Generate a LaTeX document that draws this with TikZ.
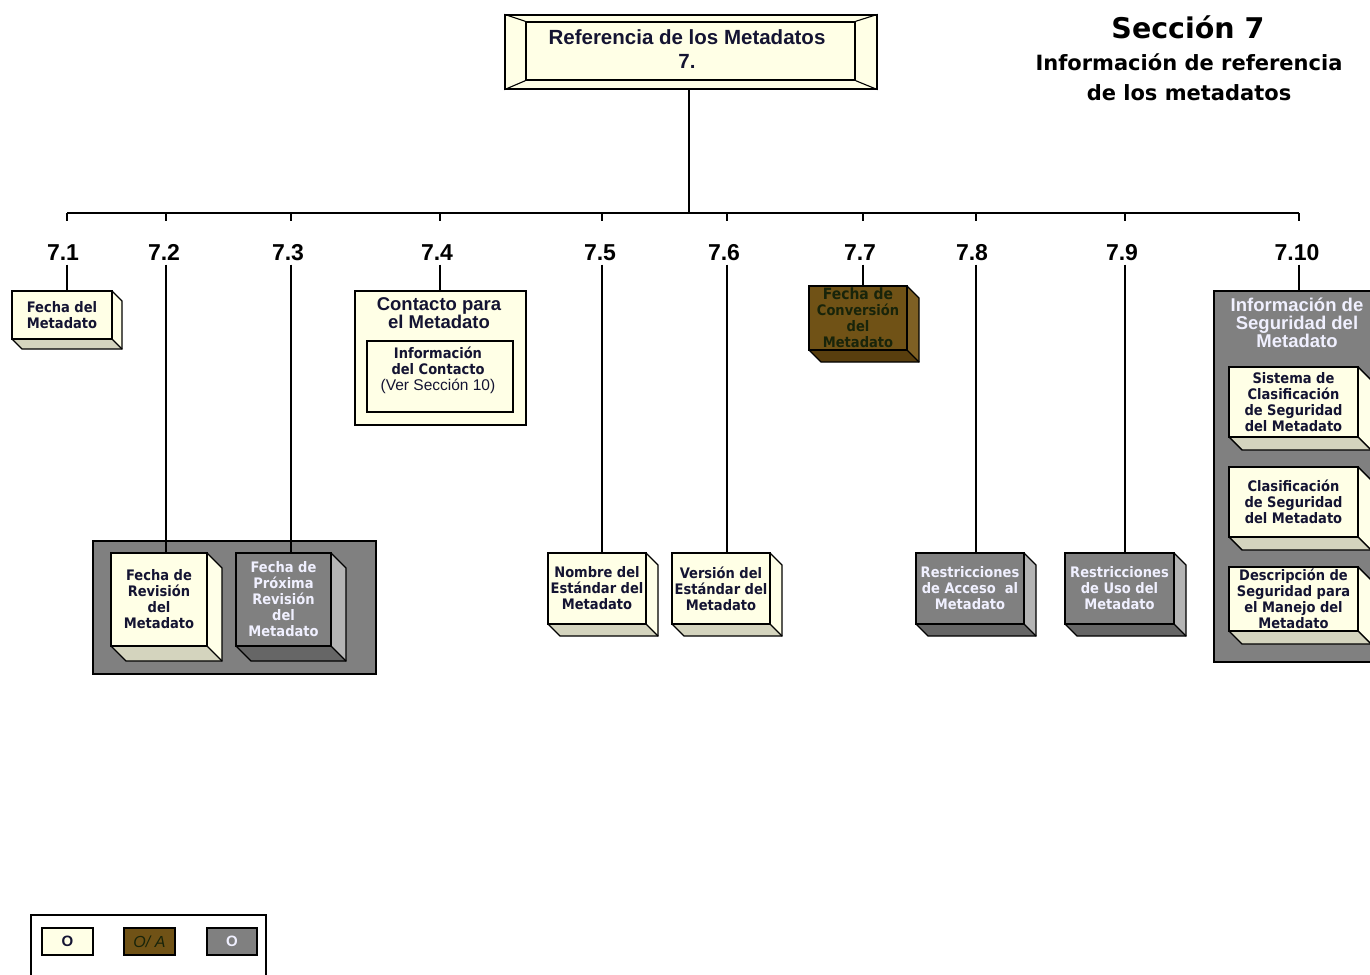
\documentclass[tikz,border=0pt]{standalone}
\usepackage{fontspec}
\setmainfont{Liberation Sans}
\newfontfamily\boxfont{DejaVu Sans Condensed}
\newfontfamily\headfont{DejaVu Sans}
\usetikzlibrary{fit}

% palettes: front face, side face, bottom face, text
\definecolor{crFront}{RGB}{255,255,230}
\definecolor{crSide}{RGB}{255,255,232}
\definecolor{crBottom}{RGB}{212,212,190}
\definecolor{crText}{RGB}{20,20,50}
\definecolor{gyFront}{RGB}{128,128,128}
\definecolor{gySide}{RGB}{180,180,180}
\definecolor{gyBottom}{RGB}{102,102,102}
\definecolor{gyText}{RGB}{240,240,255}
\definecolor{brFront}{RGB}{112,82,22}
\definecolor{brSide}{RGB}{126,96,36}
\definecolor{brBottom}{RGB}{88,62,14}
\definecolor{brText}{RGB}{24,36,10}

\tikzset{
  edge/.style={draw=black, line width=1.4pt, line join=miter},
  face/.style={edge, inner sep=0pt},
  boxlbl/.style={inner sep=0pt, align=center,
    font=\boxfont\bfseries\fontsize{14.5}{16}\selectfont},
  numlbl/.style={inner sep=0pt, text height=39pt, text depth=4pt,
    font=\bfseries\fontsize{23}{24}\selectfont},
  link/.style={draw=black, line width=1.3pt},
}

% raised block: palette, name, x1, y1, x2, y2, depth, text
\newcommand\blockbox[8]{%
  \fill[#1Side] (#5,#4) -- (#5+#7,#4+#7) -- (#5+#7,#6+#7) -- (#5,#6) -- cycle;
  \fill[#1Bottom] (#3,#6) -- (#5,#6) -- (#5+#7,#6+#7) -- (#3+#7,#6+#7) -- cycle;
  \draw[edge] (#5,#4) -- (#5+#7,#4+#7) -- (#5+#7,#6+#7) -- (#3+#7,#6+#7) -- (#3,#6);
  \draw[edge] (#5,#6) -- (#5+#7,#6+#7);
  \node[face, fill=#1Front, fit={(#3,#4) (#5,#6)}] (#2) {};
  \node[boxlbl, text=#1Text] at (#2.center) {#8};
}

\begin{document}
\begin{tikzpicture}[x=1pt, y=-1pt]
\useasboundingbox (0,0) rectangle (1370,974);
\clip (0,0) rectangle (1370,974);
\fill[white] (0,0) rectangle (1370,974);

% heading
\node[font=\headfont\bfseries\fontsize{28.5}{30}\selectfont, inner sep=0pt] (head) at (1188,27) {Sección 7};
\node[font=\headfont\bfseries\fontsize{21}{30}\selectfont, inner sep=0pt, align=center] (sub) at (1189,77)
  {Información de referencia\\de los metadatos};

% root block with bevelled frame
\node[face, fill=crFront, fit={(505,15) (877,89)}] (rootO) {};
\node[face, fill=crFront, fit={(526,22) (855,80)}] (rootI) {};
\draw[edge, line width=1.1pt] (rootO.north west) -- (rootI.north west)
  (rootO.north east) -- (rootI.north east)
  (rootO.south west) -- (rootI.south west)
  (rootO.south east) -- (rootI.south east);
\node[inner sep=0pt, align=center, text=crText,
  font=\bfseries\fontsize{20.5}{24}\selectfont] (root) at (687,49)
  {Referencia de los Metadatos\\7.};

% bus
\coordinate (hub) at (689,213);
\coordinate (t1) at (67,213);
\coordinate (t2) at (166,213);
\coordinate (t3) at (291,213);
\coordinate (t4) at (440,213);
\coordinate (t5) at (602,213);
\coordinate (t6) at (727,213);
\coordinate (t7) at (863,213);
\coordinate (t8) at (976,213);
\coordinate (t9) at (1125,213);
\coordinate (t10) at (1299,213);
\draw[link] (rootO.south -| hub) -- (hub);
\draw[link] (t1) -- (t10);

% section numbers
\node[numlbl] (n1) at (63,243) {7.1};
\node[numlbl] (n2) at (164,243) {7.2};
\node[numlbl] (n3) at (288,243) {7.3};
\node[numlbl] (n4) at (437,243) {7.4};
\node[numlbl] (n5) at (600,243) {7.5};
\node[numlbl] (n6) at (724,243) {7.6};
\node[numlbl] (n7) at (860,243) {7.7};
\node[numlbl] (n8) at (972,243) {7.8};
\node[numlbl] (n9) at (1122,243) {7.9};
\node[numlbl] (n10) at (1297,243) {7.10};
\foreach \i in {1,...,10} {\draw[link] (t\i) -- (t\i |- n\i.north);}

% 7.1
\blockbox{cr}{b1}{12}{291}{112}{339}{10}{Fecha del\\Metadato}

% 7.2 / 7.3 group
\node[face, fill=gyFront, fit={(93,541) (376,674)}] (grp23) {};
\blockbox{cr}{b2}{111}{553}{207}{646}{15}{Fecha de\\Revisión\\del\\Metadato}
\blockbox{gy}{b3}{236}{553}{331}{646}{15}{Fecha de\\Próxima\\Revisión\\del\\Metadato}

% 7.4
\node[face, fill=crFront, fit={(355,291) (526,425)}] (b4) {};
\node[inner sep=0pt, align=center, text=crText,
  font=\bfseries\fontsize{18.5}{18}\selectfont] (b4t) at (439,313) {Contacto para\\el Metadato};
\node[face, fill=crFront, fit={(367,341) (513,412)}] (b4i) {};
\node[inner sep=0pt, align=center, text=crText, font=\fontsize{14.5}{16}\selectfont] (b4it) at (438,370)
  {{\boxfont\bfseries Información}\\{\boxfont\bfseries del Contacto}\\{\fontsize{15.5}{16}\selectfont(Ver Sección 10)}};

% 7.5 - 7.9
\blockbox{cr}{b5}{548}{553}{646}{624}{12}{Nombre del\\Estándar del\\Metadato}
\blockbox{cr}{b6}{672}{553}{770}{624}{12}{Versión del\\Estándar del\\Metadato}
\blockbox{br}{b7}{809}{286}{907}{350}{12}{\fontsize{15.5}{16}\selectfont Fecha de\\Conversión\\del\\Metadato}
\blockbox{gy}{b8}{916}{553}{1024}{624}{12}{Restricciones\\de Acceso\ \ al\\Metadato}
\blockbox{gy}{b9}{1065}{553}{1174}{624}{12}{Restricciones\\de Uso del\\Metadato}

% 7.10
\node[face, fill=gyFront, fit={(1214,291) (1390,662)}] (b10) {};
\node[inner sep=0pt, align=center, text=gyText,
  font=\bfseries\fontsize{18.5}{18}\selectfont] (b10t) at (1297,323) {Información de\\Seguridad del\\Metadato};
\blockbox{cr}{b10a}{1229}{367}{1358}{437}{13}{Sistema de\\Clasificación\\de Seguridad\\del Metadato}
\blockbox{cr}{b10b}{1229}{467}{1358}{537}{13}{Clasificación\\de Seguridad\\del Metadato}
\blockbox{cr}{b10c}{1229}{567}{1358}{631}{13}{Descripción de\\Seguridad para\\el Manejo del\\Metadato}

% drops from numbers to blocks
\draw[link] (n1.south -| t1) -- (t1 |- b1.north);
\draw[link] (n2.south -| t2) -- (t2 |- b2.north);
\draw[link] (n3.south -| t3) -- (t3 |- b3.north);
\draw[link] (n4.south -| t4) -- (t4 |- b4.north);
\draw[link] (n5.south -| t5) -- (t5 |- b5.north);
\draw[link] (n6.south -| t6) -- (t6 |- b6.north);
\draw[link] (n7.south -| t7) -- (t7 |- b7.north);
\draw[link] (n8.south -| t8) -- (t8 |- b8.north);
\draw[link] (n9.south -| t9) -- (t9 |- b9.north);
\draw[link] (n10.south -| t10) -- (t10 |- b10.north);

% key
\node[draw=black, line width=1.2pt, inner sep=0pt, fit={(31,915) (266,1000)}] (key) {};
\node[face, line width=1.2pt, fill=crFront, fit={(42,928) (93,955)}] (k1) {};
\node[text=crText, font=\bfseries\fontsize{15}{16}\selectfont, inner sep=0pt] at (k1.center) {O};
\node[face, line width=1.2pt, fill=brFront, fit={(124,928) (175,955)}] (k2) {};
\node[text=brText, font=\itshape\fontsize{16}{16}\selectfont, inner sep=0pt] at (k2.center) {O/ A};
\node[face, line width=1.2pt, fill=gyFront, fit={(207,928) (257,955)}] (k3) {};
\node[text=gyText, font=\bfseries\fontsize{15}{16}\selectfont, inner sep=0pt] at (k3.center) {O};
\end{tikzpicture}
\end{document}
